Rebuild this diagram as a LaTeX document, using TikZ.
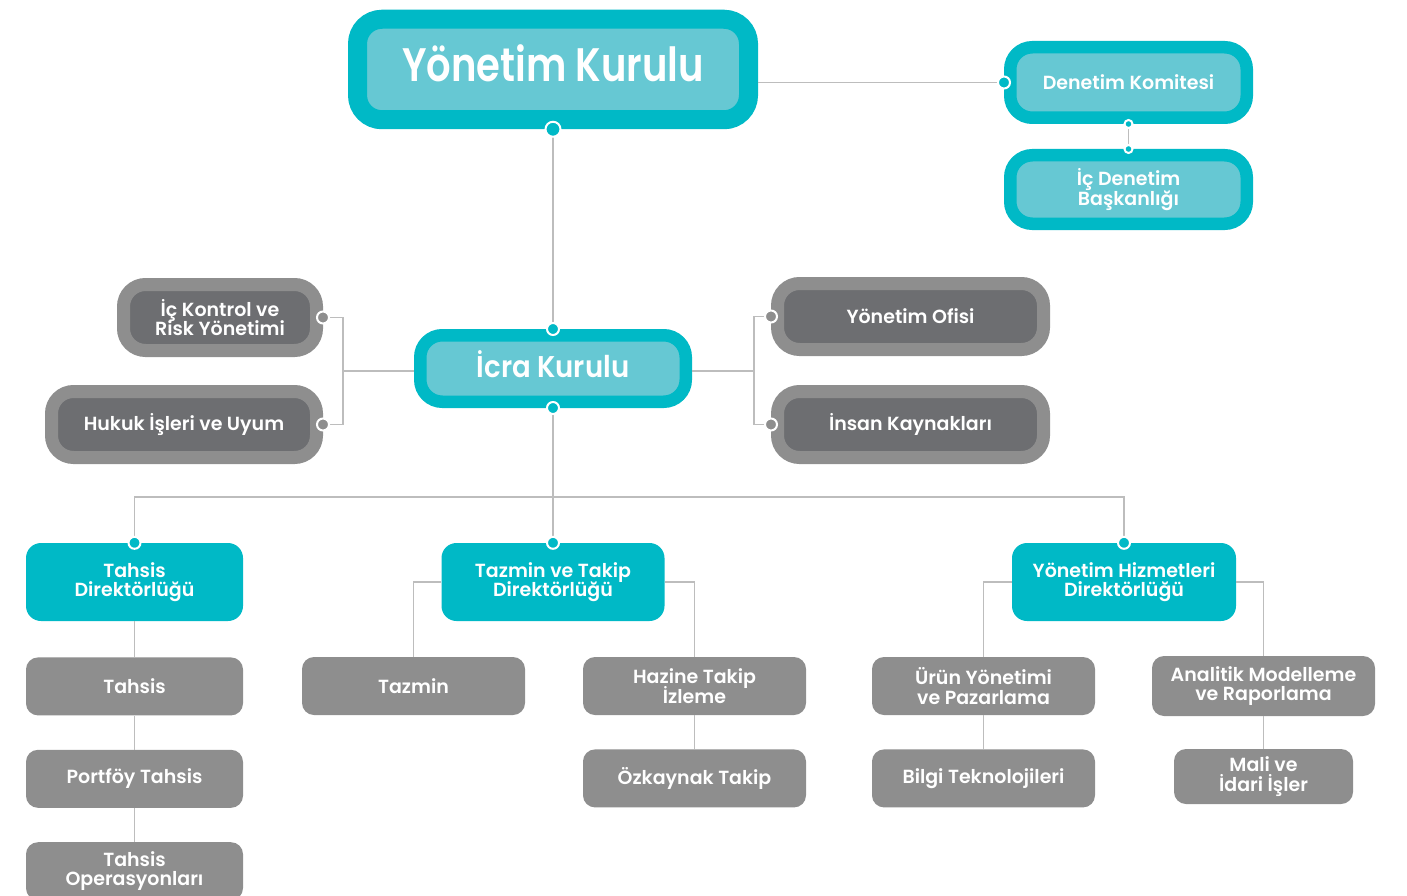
\documentclass[tikz,border=0pt]{standalone}
\usepackage{fontspec}
\IfFontExistsTF{Poppins SemiBold}
  {\setmainfont{Poppins}[BoldFont={Poppins SemiBold}]}
  {\setmainfont{Poppins}}
\usepackage{xcolor}
\usetikzlibrary{positioning,calc}

\definecolor{kurteal}{HTML}{00B9C6}
\definecolor{kurlight}{HTML}{66C8D3}
\definecolor{kurdark}{HTML}{6D6E71}
\definecolor{kurgrey}{HTML}{8E8E8E}
\definecolor{kurline}{HTML}{BDBDBD}

\newcommand\tightlines{\setlength\lineskiplimit{-20pt}}

\begin{document}
\begin{tikzpicture}[
    x=1pt, y=1pt,
    node distance=34pt,
    lbl/.style={text=white, align=center,
      font={\fontsize{19}{19.5}\selectfont\bfseries\tightlines}},
    boardbox/.style={lbl, draw=kurteal, fill=kurlight, line width=#1, rounded corners=22pt},
    boardbox/.default=12.5pt,
    sidebox/.style={lbl, draw=kurgrey, fill=kurdark, line width=13pt, rounded corners=22pt,
      minimum height=66pt},
    dirbox/.style={lbl, fill=kurteal, rounded corners=15pt, minimum height=78pt},
    unitbox/.style={lbl, fill=kurgrey, rounded corners=12pt, minimum height=58pt, minimum width=223pt},
    link/.style={draw=kurline, line width=1.6pt},
    tealdot/.style={fill=kurteal, draw=white, line width=2pt},
    greydot/.style={fill=kurgrey, draw=white, line width=2pt}
  ]
    \clip (0,0) rectangle (1407,-896);

    \node[boardbox=19pt, minimum width=391pt, minimum height=100.5pt, rounded corners=24.5pt,
      text height=33pt, text depth=8pt,
      font={\fontsize{47}{47}\selectfont\bfseries\addfontfeature{FakeStretch=0.82}}] (yk) at (553,-69.5) {Yönetim Kurulu};
    \node[boardbox, minimum width=236.5pt, minimum height=70.5pt] (dk) at (1128.5,-82.5) {Denetim Komitesi};
    \node[boardbox, minimum width=236.5pt, minimum height=68.5pt] (idb) at (1128.5,-189.5) {İç Denetim\\Başkanlığı};
    \node[boardbox, minimum width=265.5pt, minimum height=66.5pt,
      text height=21pt, text depth=3pt,
      font={\fontsize{30}{30}\selectfont\bfseries\addfontfeature{FakeStretch=0.92}}] (ik) at (553,-368.5) {İcra Kurulu};

    \node[sidebox, minimum width=193pt] (ick) at (220,-317.5) {İç Kontrol ve\\Risk Yönetimi};
    \node[sidebox, minimum width=265pt] (hk) at (184,-424.5) {Hukuk İşleri ve Uyum};
    \node[sidebox, minimum width=266pt] (yo) at (910.5,-316.5) {Yönetim Ofisi};
    \node[sidebox, minimum width=266pt] (ink) at (910.5,-424.5) {İnsan Kaynakları};

    \node[dirbox, minimum width=217pt] (td) at (134.5,-582) {Tahsis\\Direktörlüğü};
    \node[dirbox, minimum width=223pt] (tzd) at (553,-582) {Tazmin ve Takip\\Direktörlüğü};
    \node[dirbox, minimum width=224pt] (yhd) at (1124,-582) {Yönetim Hizmetleri\\Direktörlüğü};

    \node[unitbox, minimum width=217pt, below=36pt of td] (th) {Tahsis};
    \node[unitbox, minimum width=217pt, below=of th] (pt) {Portföy Tahsis};
    \node[unitbox, minimum width=217pt, below=of pt] (to) {Tahsis\\Operasyonları};

    \node[unitbox] (tz) at (413.5,-686) {Tazmin};
    \node[unitbox] (hz) at (694.5,-686) {Hazine Takip\\İzleme};
    \node[unitbox, below=of hz] (oz) {Özkaynak Takip};

    \node[unitbox] (uy) at (983.5,-686) {Ürün Yönetimi\\ve Pazarlama};
    \node[unitbox, below=of uy] (bt) {Bilgi Teknolojileri};
    \node[unitbox, minimum height=60pt] (am) at (1263.5,-686) {Analitik Modelleme\\ve Raporlama};
    \node[unitbox, minimum width=179pt, minimum height=55pt] (mi) at (1263.5,-776.5) {Mali ve\\İdari İşler};

    \coordinate (lb) at (343,-371);
    \coordinate (rb) at (754,-371);
    \coordinate (bus) at (553,-497);

    \draw[link] (yk.south) -- (ik.north);
    \draw[link] (dk.west) -- (dk.west -| yk.east);
    \draw[link] (dk.south) -- (idb.north);
    \draw[link] (ick.east) -| (lb) |- (hk.east);
    \draw[link] (lb) -- (lb -| ik.west);
    \draw[link] (yo.west) -| (rb) |- (ink.west);
    \draw[link] (rb) -- (rb -| ik.east);
    \draw[link] (ik.south) -- (tzd.north);
    \draw[link] (td.north) |- (bus) -| (yhd.north);
    \draw[link] (td) -- (th) (th) -- (pt) (pt) -- (to);
    \draw[link] (tzd.west) -| (tz.north);
    \draw[link] (tzd.east) -| (hz.north);
    \draw[link] (hz) -- (oz);
    \draw[link] (yhd.west) -| (uy.north);
    \draw[link] (yhd.east) -| (am.north);
    \draw[link] (uy) -- (bt);
    \draw[link] (am) -- (mi);

    \filldraw[tealdot] (yk.south) circle (7.5pt);
    \foreach \p in {dk.west, ik.north, ik.south, td.north, tzd.north, yhd.north}
      \filldraw[tealdot] (\p) circle (6pt);
    \foreach \p in {dk.south, idb.north}
      \filldraw[tealdot] (\p) circle (4pt);
    \foreach \p in {ick.east, hk.east, yo.west, ink.west}
      \filldraw[greydot] (\p) circle (6pt);
  \end{tikzpicture}
\end{document}
